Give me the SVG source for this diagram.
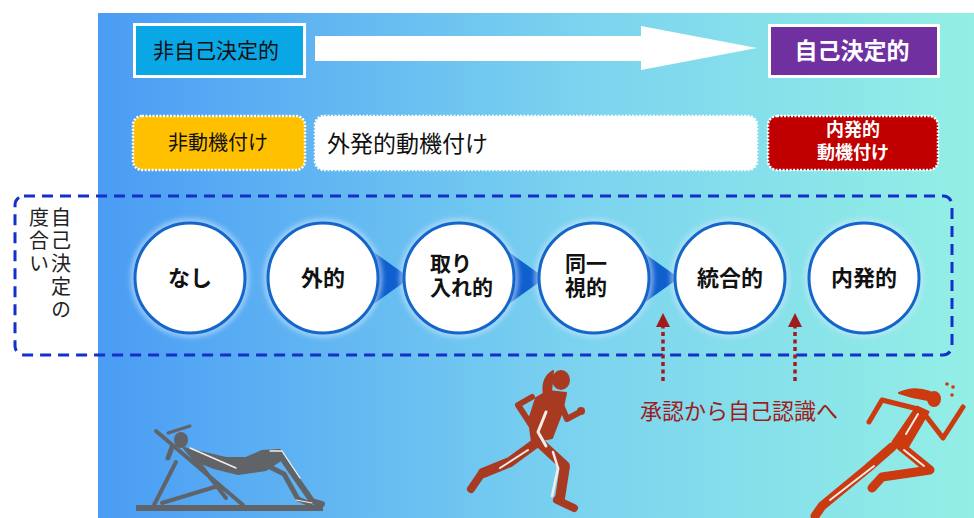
<svg xmlns="http://www.w3.org/2000/svg" width="974" height="518" viewBox="0 0 974 518">
  <defs>
    <linearGradient id="bg" x1="0" y1="0" x2="1" y2="0">
      <stop offset="0" stop-color="#4a9cf4"/>
      <stop offset="0.55" stop-color="#7bd3ef"/>
      <stop offset="1" stop-color="#93efe5"/>
    </linearGradient>
    <filter id="glow" x="-20%" y="-20%" width="140%" height="140%">
      <feGaussianBlur stdDeviation="2.5"/>
    </filter>
    <marker id="upHead" viewBox="0 0 10 10" refX="5" refY="5" markerWidth="4" markerHeight="4" orient="auto">
      <path d="M0,0 L10,5 L0,10 Z" fill="#a01c1c"/>
    </marker>
  </defs>
  <style>
    .jp { font-family: "Noto Sans CJK JP", "Noto Sans", sans-serif; }
    .circle { fill: #ffffff; stroke: #1466c8; stroke-width: 3; }
    .halo { fill: none; stroke: #cfe6ff; stroke-width: 7; opacity: 0.6; }
    .clabel { font-family: "Noto Sans CJK JP", sans-serif; font-weight: 700; font-size: 22px; fill: #111; }
    .clabel2 { font-family: "Noto Sans CJK JP", sans-serif; font-weight: 700; font-size: 21px; fill: #111; }
    .dotbox { stroke: #ffffff; stroke-width: 2.5; stroke-dasharray: 2 1.5; }
    .chev { fill: #0f5fcf; }
    .vcol { font-family: "Noto Sans CJK JP", sans-serif; font-size: 20px; fill: #222; writing-mode: vertical-rl; letter-spacing: 3px; }
    .link { stroke: #a01c1c; stroke-width: 3.5; stroke-dasharray: 4 3.5; fill: none; }
    .hl { stroke: #f6ece8; fill: none; stroke-linecap: round; }
  </style>

  <!-- backdrop panel -->
  <rect x="98" y="13" width="876" height="505" fill="url(#bg)"/>

  <!-- direction arrow -->
  <g id="direction-arrow">
    <polygon points="315,36 641,36 641,26 757,48 641,70 641,61 315,61" fill="#ffffff"/>
  </g>

  <g id="non-self-determined">
    <rect x="134.5" y="24.5" width="170" height="52" fill="#0aa7e6" stroke="#ffffff" stroke-width="3"/>
    <text class="jp" x="216" y="58" font-size="21" text-anchor="middle" fill="#111">非自己決定的</text>
  </g>

  <g id="self-determined">
    <rect x="769.5" y="25.5" width="169" height="51" fill="#7030a0" stroke="#ffffff" stroke-width="3"/>
    <text class="jp" x="852" y="59" font-size="23" font-weight="700" text-anchor="middle" fill="#ffffff">自己決定的</text>
  </g>

  <g id="amotivation">
    <rect class="dotbox" x="133" y="116" width="172" height="54" rx="9" fill="#ffc000"/>
    <text class="jp" x="218" y="150" font-size="20" text-anchor="middle" fill="#111">非動機付け</text>
  </g>

  <g id="extrinsic-motivation">
    <rect class="dotbox" x="315" y="116" width="442" height="54" rx="9" fill="#ffffff"/>
    <text class="jp" x="327" y="152" font-size="23" fill="#111">外発的動機付け</text>
  </g>

  <g id="intrinsic-motivation">
    <rect class="dotbox" x="768" y="116" width="170" height="54" rx="9" fill="#c00000"/>
    <text class="jp" font-size="18" font-weight="700" text-anchor="middle" fill="#ffffff"><tspan x="853" y="136">内発的</tspan><tspan x="853" y="159">動機付け</tspan></text>
  </g>

  <!-- degree of self-determination band -->
  <g id="degree-band">
    <rect x="15" y="196" width="937" height="159" rx="9" fill="none" stroke="#1430c8" stroke-width="3" stroke-dasharray="11 7"/>
    <text class="vcol" x="61" y="207">自己決定の</text>
    <text class="vcol" x="39" y="207">度合い</text>
  </g>

  <!-- chevrons between stages and the upward links -->
  <g id="connectors">
    <polygon class="chev" points="368,248 368,308 410,278"/>
    <polygon class="chev" points="503,248 503,308 545,278"/>
    <polygon class="chev" points="637,248 637,308 679,278"/>
    <line class="link" x1="663" y1="381" x2="663" y2="320" marker-end="url(#upHead)"/>
    <line class="link" x1="795" y1="381" x2="795" y2="320" marker-end="url(#upHead)"/>
  </g>

  <g id="stage-none">
    <circle class="halo" cx="190" cy="278" r="56" filter="url(#glow)"/>
    <circle class="circle" cx="190" cy="278" r="55"/>
    <text class="clabel" x="190" y="286" text-anchor="middle">なし</text>
  </g>
  <g id="stage-external">
    <circle class="halo" cx="323" cy="278" r="56" filter="url(#glow)"/>
    <circle class="circle" cx="323" cy="278" r="55"/>
    <text class="clabel" x="323" y="286" text-anchor="middle">外的</text>
  </g>
  <g id="stage-introjected">
    <circle class="halo" cx="459" cy="278" r="56" filter="url(#glow)"/>
    <circle class="circle" cx="459" cy="278" r="55"/>
    <text class="clabel2"><tspan x="430" y="271">取り</tspan><tspan x="430" y="295">入れ的</tspan></text>
  </g>
  <g id="stage-identified">
    <circle class="halo" cx="594" cy="278" r="56" filter="url(#glow)"/>
    <circle class="circle" cx="594" cy="278" r="55"/>
    <text class="clabel2"><tspan x="565" y="271">同一</tspan><tspan x="565" y="295">視的</tspan></text>
  </g>
  <g id="stage-integrated">
    <circle class="halo" cx="730" cy="278" r="56" filter="url(#glow)"/>
    <circle class="circle" cx="730" cy="278" r="55"/>
    <text class="clabel" x="730" y="286" text-anchor="middle">統合的</text>
  </g>
  <g id="stage-intrinsic">
    <circle class="halo" cx="864" cy="278" r="56" filter="url(#glow)"/>
    <circle class="circle" cx="864" cy="278" r="55"/>
    <text class="clabel" x="864" y="286" text-anchor="middle">内発的</text>
  </g>

  <g id="caption">
    <text class="jp" x="640" y="419" font-size="22" fill="#a01c1c">承認から自己認識へ</text>
  </g>

  <!-- reclining figure on a deck chair -->
  <g id="lounger" fill="#606468" stroke="#606468" stroke-linecap="round" stroke-linejoin="round">
    <rect x="136" y="505" width="187" height="6" stroke="none"/>
    <line x1="156" y1="431" x2="243" y2="505" stroke-width="4"/>
    <line x1="176" y1="462" x2="154" y2="505" stroke-width="4"/>
    <line x1="162" y1="503" x2="218" y2="486" stroke-width="4"/>
    <!-- head and hat -->
    <ellipse cx="181" cy="440" rx="7" ry="8" stroke="none"/>
    <path d="M168,433 L190,426" stroke-width="3" fill="none"/>
    <path d="M172,447 L168,458" stroke-width="5" fill="none"/>
    <!-- torso -->
    <path d="M184,448 L200,452 L226,458 L246,458 L262,451 L280,450 L284,458 L266,470 L238,474 L214,468 L194,460 Z" stroke-width="2"/>
    <!-- legs -->
    <path d="M278,452 L296,478 L312,501 L322,504" stroke-width="6" fill="none"/>
    <path d="M264,464 L284,474 L298,499 L310,504" stroke-width="5" fill="none"/>
    <!-- arm -->
    <path d="M192,454 L212,480 L226,498" stroke-width="4" fill="none"/>
    <path class="hl" d="M190,448 L236,468" stroke-width="1.5"/>
    <path class="hl" d="M270,451 L282,451 L300,478" stroke-width="1.3"/>
    <path class="hl" d="M296,500 L312,503" stroke-width="1.2"/>
  </g>

  <!-- runner in the middle -->
  <g id="runner" fill="#a83a22" stroke="#a83a22" stroke-linecap="round" stroke-linejoin="round">
    <ellipse cx="561" cy="380" rx="9" ry="10" stroke="none"/>
    <path d="M553,371 Q541,378 544,395 L551,392 Z" stroke-width="2"/>
    <path d="M548,391 L566,393 L562,412 L552,438 L532,442 L529,420 L536,398 Z" stroke-width="2"/>
    <path d="M532,397 L518,405 L537,434" stroke-width="6" fill="none"/>
    <path d="M558,398 L567,419 L580,412" stroke-width="6" fill="none"/>
    <circle cx="581" cy="411" r="4" stroke="none"/>
    <path d="M536,443 L510,462 L483,473" stroke-width="10" fill="none"/>
    <path d="M482,473 L471,489" stroke-width="8" fill="none"/>
    <path d="M541,444 L565,466 L560,498" stroke-width="10" fill="none"/>
    <path d="M557,500 L574,508" stroke-width="8" fill="none"/>
    <path class="hl" d="M546,412 L538,432 L546,446" stroke-width="3"/>
    <path class="hl" d="M553,452 L558,468 L552,496" stroke-width="2.5"/>
    <path class="hl" d="M528,450 L500,468" stroke-width="2"/>
  </g>

  <!-- sprinter on the right -->
  <g id="sprinter" fill="#cc3a10" stroke="#cc3a10" stroke-linecap="round" stroke-linejoin="round">
    <ellipse cx="934" cy="399" rx="7" ry="8" stroke="none"/>
    <path d="M930,392 Q914,386 899,393 Q913,398 928,400 Z" stroke-width="2"/>
    <path d="M917,407 L928,412 L908,446 L893,442 Z" stroke-width="3"/>
    <path d="M914,408 L882,400 L869,422" stroke-width="5" fill="none"/>
    <path d="M926,416 L943,438 L963,407" stroke-width="5" fill="none"/>
    <path d="M898,444 L930,470 L882,477 L872,488" stroke-width="9" fill="none"/>
    <path d="M892,447 L868,468 L822,506 L815,516" stroke-width="9" fill="none"/>
    <path class="hl" d="M874,466 L830,500" stroke-width="2"/>
    <path class="hl" d="M904,450 L924,466" stroke-width="2"/>
    <path class="hl" d="M918,414 L906,434" stroke-width="2"/>
    <circle cx="947" cy="384" r="1.8" stroke="none"/>
    <circle cx="953" cy="387" r="1.8" stroke="none"/>
    <circle cx="952" cy="395" r="1.8" stroke="none"/>
  </g>
</svg>
